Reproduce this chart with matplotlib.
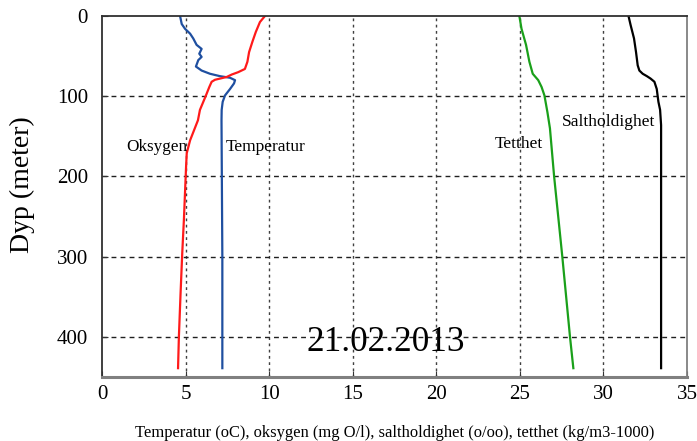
import matplotlib
matplotlib.use("Agg")
import matplotlib.pyplot as plt

# Temperature (oC)
temp_depth = [0, 10, 16, 22, 28, 36, 41, 47, 51, 55, 63, 68, 72, 75, 77, 80, 84, 91, 99, 107, 117, 130, 200, 300, 400, 439]
temp_val   = [4.67, 4.77, 4.97, 5.27, 5.46, 5.66, 5.96, 5.82, 5.96, 5.76, 5.62, 5.96, 6.46, 7.06, 7.66, 7.96, 7.9, 7.66, 7.36, 7.22, 7.16, 7.15, 7.17, 7.2, 7.2, 7.2]

# Oxygen (mg O/l)
oxy_depth = [0, 7.5, 20, 32, 45, 57, 66, 70, 73, 76, 78, 79.5, 82, 88.5, 99, 109, 117, 130, 155, 171, 188, 254, 296, 346, 400, 439]
oxy_val   = [9.75, 9.45, 9.2, 9.0, 8.8, 8.7, 8.55, 8.15, 7.76, 7.46, 7.06, 6.76, 6.56, 6.42, 6.22, 6.02, 5.86, 5.74, 5.27, 5.07, 5.03, 4.9, 4.8, 4.7, 4.6, 4.55]

# Density (kg/m3 - 1000)
dens_depth = [0, 16, 36, 57, 72, 80, 88.5, 99, 120, 140, 200, 300, 400, 439]
dens_val   = [24.97, 25.1, 25.37, 25.57, 25.77, 26.1, 26.3, 26.47, 26.65, 26.8, 27.05, 27.54, 28.0, 28.2]

# Salinity (o/oo)
sal_depth = [0, 11.6, 28, 45, 61.5, 68, 72, 75, 78, 82, 91, 107, 117, 136, 200, 300, 400, 439]
sal_val   = [31.5, 31.63, 31.83, 31.95, 32.05, 32.15, 32.35, 32.6, 32.82, 33.05, 33.19, 33.29, 33.39, 33.45, 33.45, 33.45, 33.45, 33.45]

x_ticks = [0, 5, 10, 15, 20, 25, 30, 35]
y_ticks = [0, 100, 200, 300, 400]

plt.rcParams['font.family'] = ['Liberation Serif', 'DejaVu Serif']

W, H = 697, 441
fig = plt.figure(figsize=(W / 100, H / 100), dpi=100)
ax = fig.add_axes([102 / W, 1 - 377 / H, (687 - 102) / W, (377 - 16) / H])

ax.plot(temp_val, temp_depth, color='#1f4fa0', lw=1.6)
ax.plot(oxy_val, oxy_depth, color='#ff1a1a', lw=1.6)
ax.plot(dens_val, dens_depth, color='#1aa01a', lw=1.6)
ax.plot(sal_val, sal_depth, color='black', lw=1.6)

ax.set_xlim(0, 35)
ax.set_ylim(450, 0)
ax.set_xticks(x_ticks)
ax.set_yticks(y_ticks)
ax.tick_params(axis='both', direction='in', length=4, labelsize=15, color='#333333')
ax.tick_params(axis='y', pad=10)
ax.tick_params(axis='x', pad=6)

for xv in x_ticks[1:-1]:
    ax.axvline(xv, color='#404040', lw=1.0, ls=(0, (2, 2.5)), zorder=0)
for yv in y_ticks[1:]:
    ax.axhline(yv, color='#202020', lw=1.0, ls=(0, (3.5, 3)), zorder=0)

ax.spines['top'].set_color('#303030')
ax.spines['top'].set_linewidth(1.3)
ax.spines['left'].set_color('#303030')
ax.spines['left'].set_linewidth(1.3)
ax.spines['bottom'].set_color('#808080')
ax.spines['bottom'].set_linewidth(2.2)
ax.spines['right'].set_color('#808080')
ax.spines['right'].set_linewidth(1.3)

fig.text(22 / W, 1 - 185 / H, 'Dyp (meter)', rotation=90, ha='center', va='center', fontsize=20)
fig.text(395 / W, 1 - 433 / H,
         'Temperatur (oC), oksygen (mg O/l), saltholdighet (o/oo), tetthet (kg/m3-1000)',
         ha='center', va='center', fontsize=11.9)

ax.text(1.45, 163, 'Oksygen', fontsize=12.3, ha='left', va='center')
ax.text(7.4, 163, 'Temperatur', fontsize=12.5, ha='left', va='center')
ax.text(23.5, 160, 'Tetthet', fontsize=12.6, ha='left', va='center')
ax.text(27.5, 132, 'Saltholdighet', fontsize=12.6, ha='left', va='center')
ax.text(16.95, 407, '21.02.2013', fontsize=25.3, ha='center', va='center')

fig.savefig('out.png', dpi=100)
